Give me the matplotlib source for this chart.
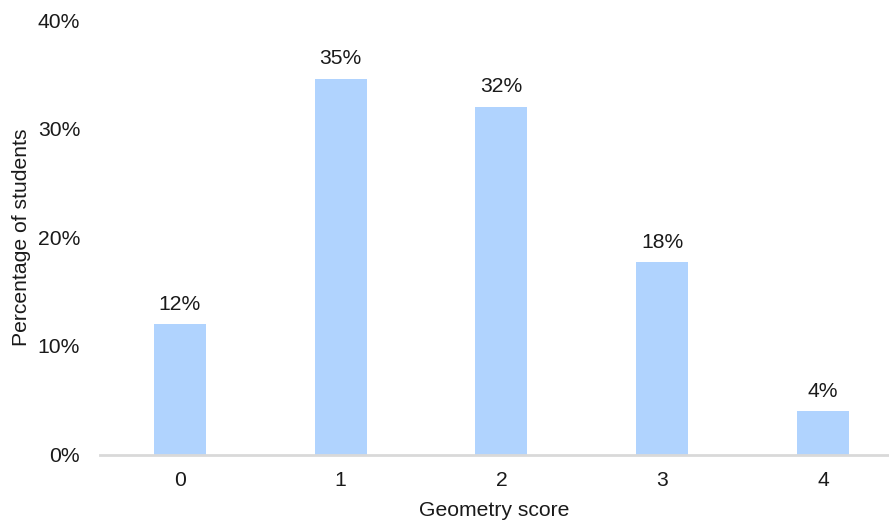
import matplotlib
matplotlib.use("Agg")
import matplotlib.pyplot as plt

# Distribution of geometry scores
scores = ["0", "1", "2", "3", "4"]
percentages = [12.0, 34.6, 32.0, 17.7, 4.0]
y_ticks = [0, 10, 20, 30, 40]
y_tick_labels = ["0%", "10%", "20%", "30%", "40%"]

plt.rcParams["font.family"] = ["Liberation Sans", "DejaVu Sans"]
FS = 15.2
TXT = "#1a1a1a"

W, H = 889, 525
fig = plt.figure(figsize=(W / 100, H / 100), dpi=100)
left, right, top, bottom = 99.5, 889, 20, 454.5
ax = fig.add_axes([left / W, (H - bottom) / H, (right - left) / W, (bottom - top) / H])

x = list(range(len(scores)))
ax.bar(x, percentages, width=0.323, color="#b0d3fe", zorder=2)

for xi, v in zip(x, percentages):
    ax.annotate(f"{v:.0f}%", (xi, v), xytext=(0, 7.5), textcoords="offset points",
                ha="center", va="bottom", fontsize=FS, color=TXT)

ax.set_xlim(-0.5, 4.411)
ax.set_ylim(0, 40)
ax.set_xticks(x)
ax.set_xticklabels(scores, fontsize=FS, color=TXT)
ax.set_yticks(y_ticks)
ax.set_yticklabels(y_tick_labels, fontsize=FS, color=TXT)
ax.tick_params(axis="both", length=0)
ax.tick_params(axis="x", pad=12)
ax.tick_params(axis="y", pad=14)

for s in ["top", "right", "left"]:
    ax.spines[s].set_visible(False)
ax.spines["bottom"].set_color("#d9d9d9")
ax.spines["bottom"].set_linewidth(2)
ax.spines["bottom"].set_zorder(3)

ax.set_xlabel("Geometry score", fontsize=FS, color=TXT, labelpad=8)
ax.set_ylabel("Percentage of students", fontsize=FS, color=TXT, labelpad=4.5)

fig.savefig("out.png", dpi=100)
